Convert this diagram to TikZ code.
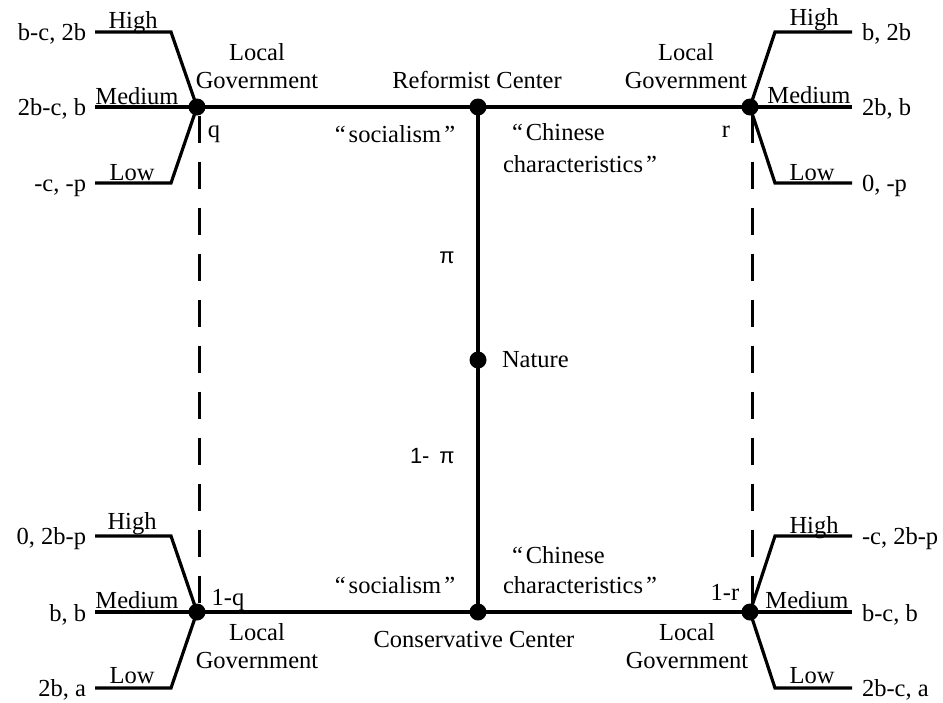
\documentclass[tikz,border=0pt]{standalone}
\usepackage{fontspec}
\setmainfont{Liberation Serif}
\newfontfamily\arialfam{Liberation Sans}
\begin{document}
\begin{tikzpicture}[x=1pt,y=-1pt,line width=3.2pt,
  every node/.style={inner sep=0pt,outer sep=0pt,font=\fontsize{24.5}{28}\selectfont},
  dot/.style={circle,fill=black,minimum size=17pt},
  txt/.style={anchor=base},
  txtl/.style={anchor=base west},
  txtr/.style={anchor=base east},
  greek/.style={font=\arialfam\fontsize{22}{26}\selectfont},
  dashline/.style={line width=3pt,dash pattern=on 27pt off 19pt}]
\useasboundingbox (0,0) rectangle (943,702);

% decision nodes
\node[dot] (LT) at (197,107) {};
\node[dot] (RC) at (478,107) {};
\node[dot] (RT) at (750,107) {};
\node[dot] (N)  at (478,360) {};
\node[dot] (LB) at (197,612) {};
\node[dot] (CC) at (478,612) {};
\node[dot] (RB) at (750,612) {};

% branch end points
\coordinate (LTh1) at (95,32);  \coordinate (LTh2) at (171,32);
\coordinate (LTm)  at (95,107);
\coordinate (LTl1) at (95,183); \coordinate (LTl2) at (171,183);
\coordinate (LBh1) at (95,536); \coordinate (LBh2) at (171,536);
\coordinate (LBm)  at (95,612);
\coordinate (LBl1) at (95,688); \coordinate (LBl2) at (171,688);
\coordinate (RTh1) at (775,32);  \coordinate (RTh2) at (852,32);
\coordinate (RTm)  at (852,107);
\coordinate (RTl1) at (775,183); \coordinate (RTl2) at (852,183);
\coordinate (RBh1) at (775,536); \coordinate (RBh2) at (852,536);
\coordinate (RBm)  at (852,612);
\coordinate (RBl1) at (775,688); \coordinate (RBl2) at (852,688);

% main tree
\draw (LT.center) -- (RC.center) -- (RT.center);
\draw (LB.center) -- (CC.center) -- (RB.center);
\draw (RC.center) -- (N.center) -- (CC.center);

% information sets
\draw[dashline] ([xshift=2pt]LT.south) -- ([xshift=2pt]LB.north);
\draw[dashline] ([xshift=2pt]RT.south) -- ([xshift=2pt]RB.north);

% local government branches
\draw (LTh1) -- (LTh2) -- (LT.center);
\draw (LTm) -- (LT.center);
\draw (LTl1) -- (LTl2) -- (LT.center);
\draw (LBh1) -- (LBh2) -- (LB.center);
\draw (LBm) -- (LB.center);
\draw (LBl1) -- (LBl2) -- (LB.center);
\draw (RT.center) -- (RTh1) -- (RTh2);
\draw (RT.center) -- (RTm);
\draw (RT.center) -- (RTl1) -- (RTl2);
\draw (RB.center) -- (RBh1) -- (RBh2);
\draw (RB.center) -- (RBm);
\draw (RB.center) -- (RBl1) -- (RBl2);

% top-left labels
\node[txt] (tlH) at (133,28) {High};
\node[txt] (tlM) at (137,104) {Medium};
\node[txt] (tlL) at (132,180) {Low};
\node[txtr] (tlp1) at (86,40) {b-c, 2b};
\node[txtr] (tlp2) at (86,115) {2b-c, b};
\node[txtr] (tlp3) at (86,191) {-c, -p};
\node[txt] (tlg1) at (257,60) {Local};
\node[txt] (tlg2) at (257,88) {Government};
\node[txt] (tlq) at (214,137) {q};

% top-right labels
\node[txt] (trH) at (814,25) {High};
\node[txt] (trM) at (809,103) {Medium};
\node[txt] (trL) at (812,180) {Low};
\node[txtl] (trp1) at (862,40) {b, 2b};
\node[txtl] (trp2) at (862,115) {2b, b};
\node[txtl] (trp3) at (862,191) {0, -p};
\node[txt] (trg1) at (686,60) {Local};
\node[txt] (trg2) at (686,88) {Government};
\node[txt] (trr) at (726,137) {r};

% bottom-left labels
\node[txt] (blH) at (132,529) {High};
\node[txt] (blM) at (137,608) {Medium};
\node[txt] (blL) at (132,683) {Low};
\node[txtr] (blp1) at (86,544) {0, 2b-p};
\node[txtr] (blp2) at (86,621) {b, b};
\node[txtr] (blp3) at (86,696) {2b, a};
\node[txt] (blg1) at (257,640) {Local};
\node[txt] (blg2) at (257,668) {Government};
\node[txt] (blq) at (228,605) {1-q};

% bottom-right labels
\node[txt] (brH) at (814,533) {High};
\node[txt] (brM) at (807,608) {Medium};
\node[txt] (brL) at (812,683) {Low};
\node[txtl] (brp1) at (862,544) {-c, 2b-p};
\node[txtl] (brp2) at (862,621) {b-c, b};
\node[txtl] (brp3) at (862,696) {2b-c, a};
\node[txt] (brg1) at (687,640) {Local};
\node[txt] (brg2) at (687,668) {Government};
\node[txt] (brr) at (725,600) {1-r};

% central labels
\node[txt] (rcl) at (477,88) {Reformist Center};
\node[txt] (ccl) at (474,647) {Conservative Center};
\node[txtl] (nl) at (502,367) {Nature};
\node[txt,greek] (pi) at (447,263) {π};
\node[txtl,greek] (mpi) at (410,463) {1-\hspace{0.45em}π};
\node[txt] (soc1) at (395,142) {“\kern3pt socialism\kern3pt”};
\node[txtl] (chi1a) at (512,140) {“\kern3pt Chinese};
\node[txtl] (chi1b) at (503,172) {characteristics\kern3pt”};
\node[txt] (soc2) at (395,593) {“\kern3pt socialism\kern3pt”};
\node[txtl] (chi2a) at (512,563) {“\kern3pt Chinese};
\node[txtl] (chi2b) at (503,593) {characteristics\kern3pt”};
\end{tikzpicture}
\end{document}
